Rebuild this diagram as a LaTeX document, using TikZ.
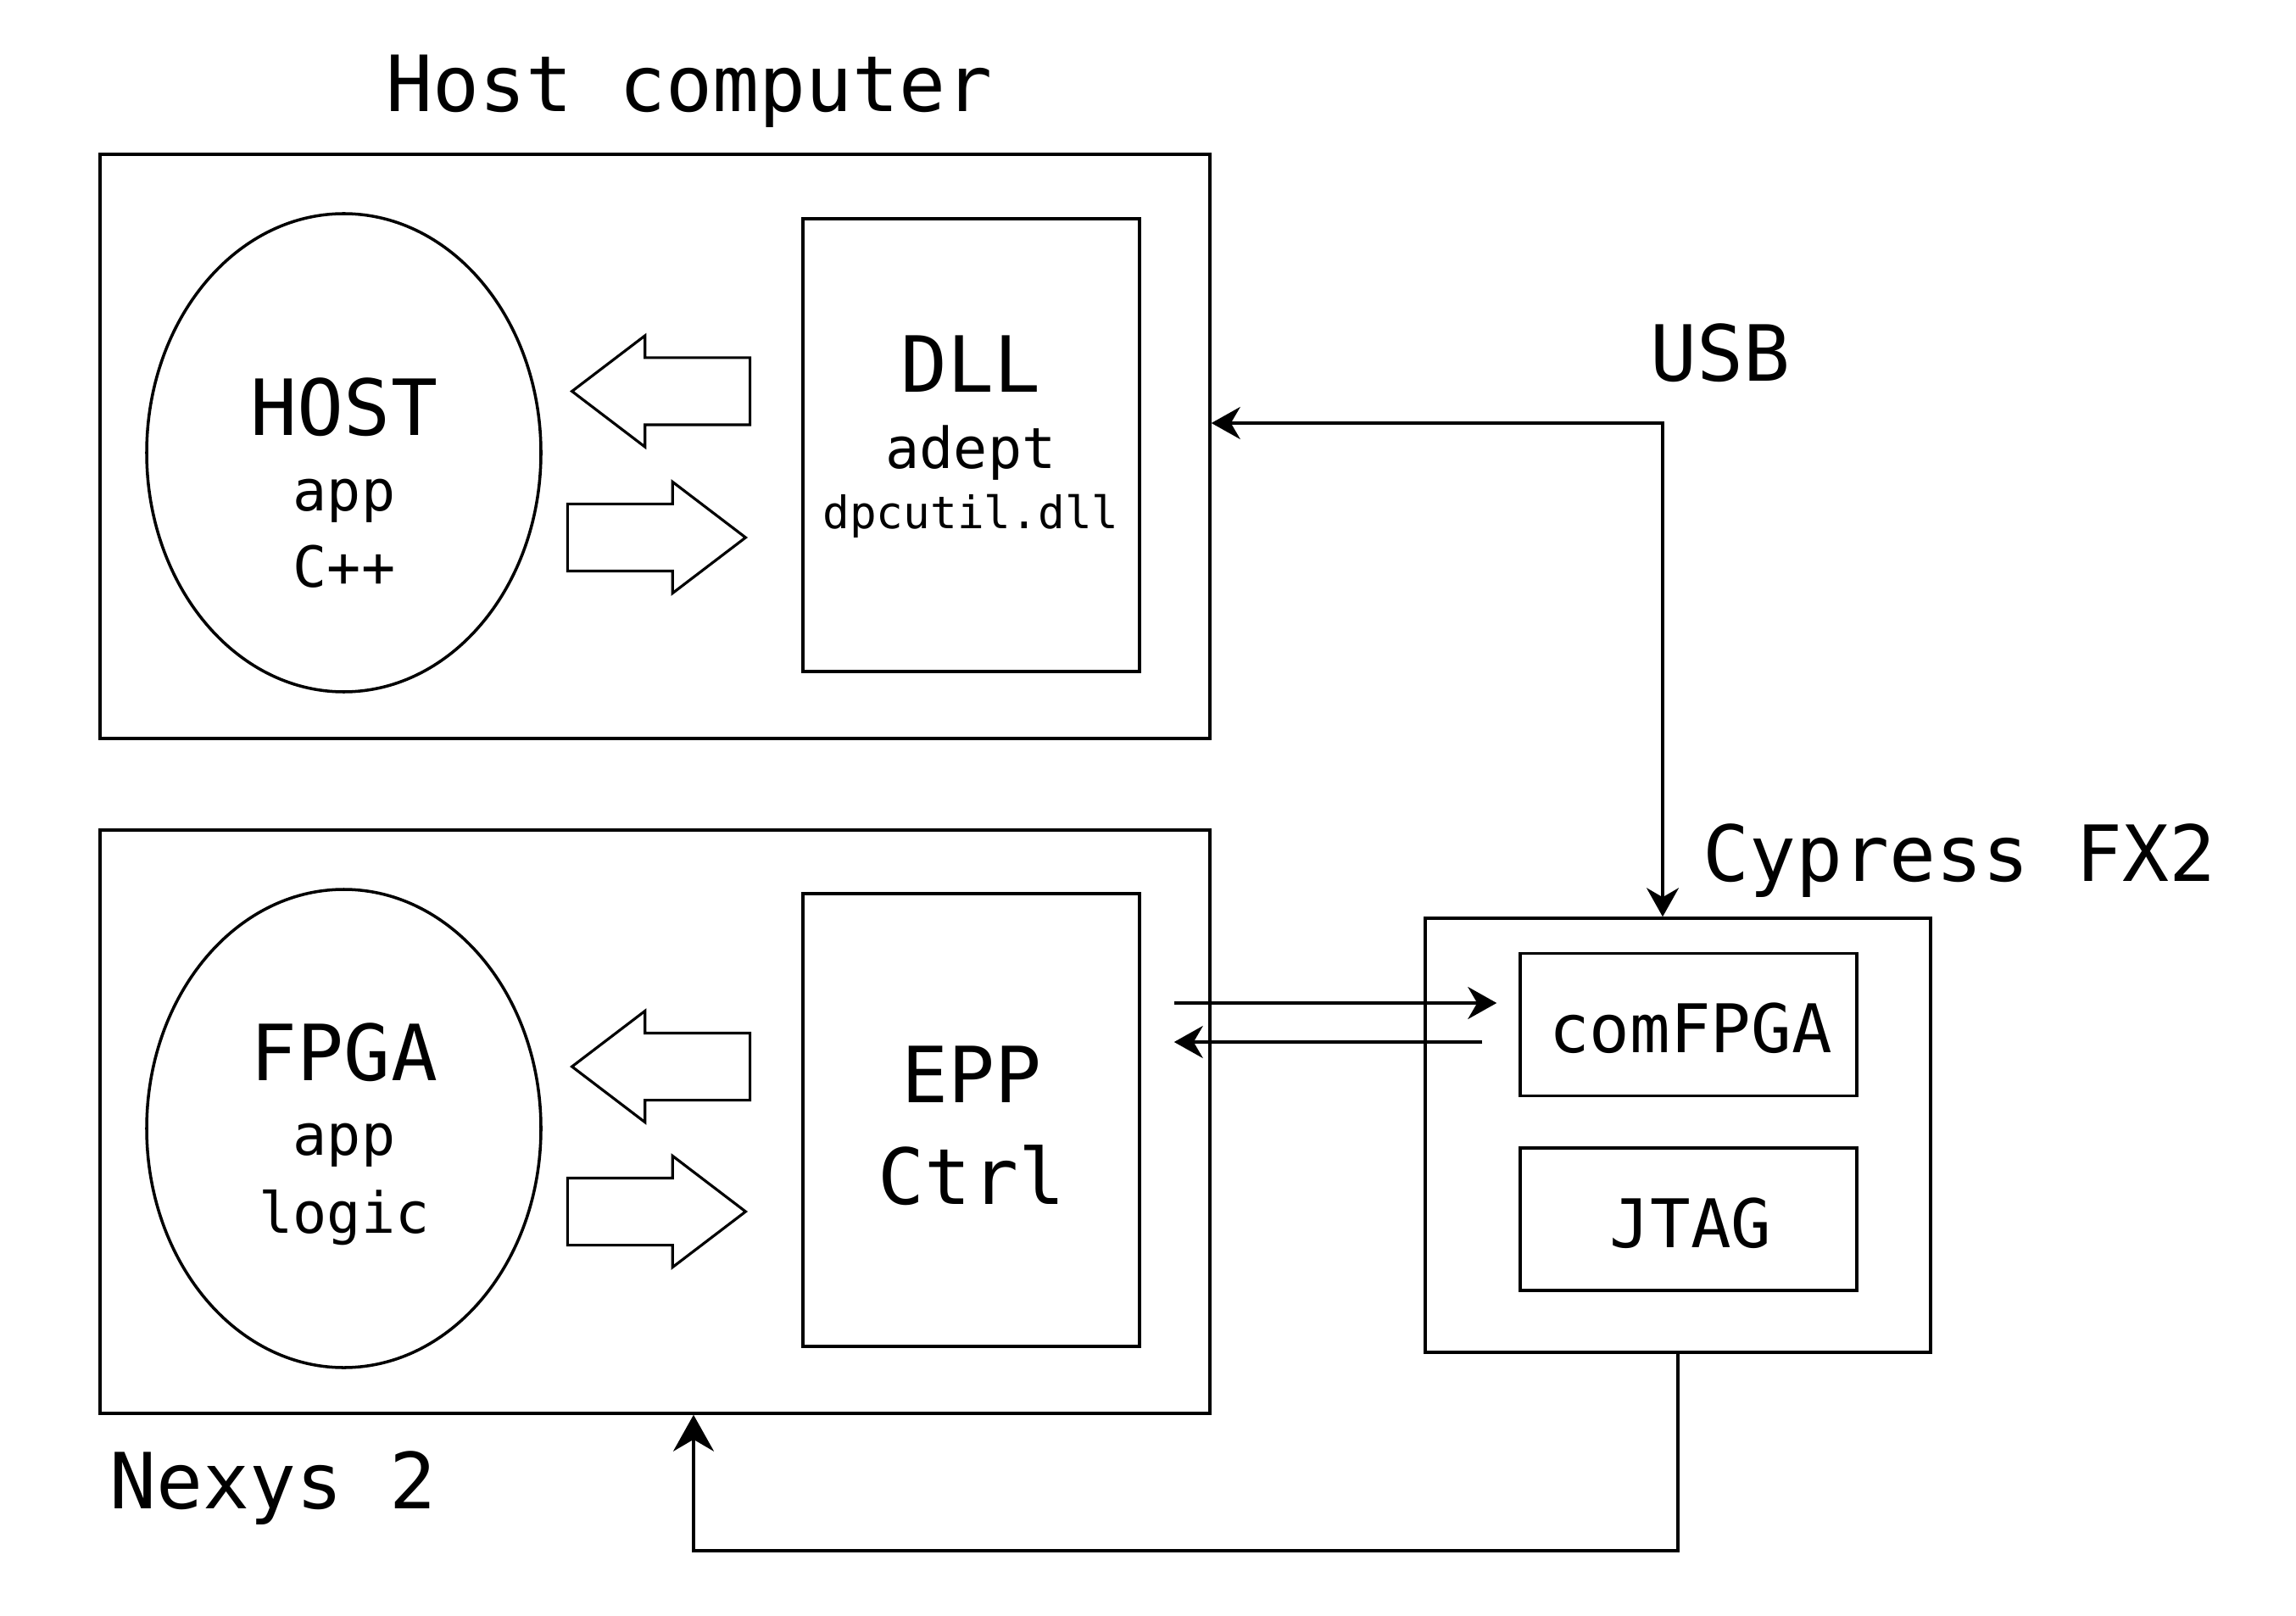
\documentclass[tikz,border=0pt]{standalone}
\usepackage{fontspec}
\setmainfont{DejaVu Sans Mono}
\usetikzlibrary{shapes.geometric, shapes.arrows, arrows.meta}

\begin{document}
\begin{tikzpicture}[
  block/.style = {
    shape = rectangle,
    draw = black,
    inner sep = 0pt
  },
  blob/.style = {
    shape = ellipse,
    draw = black,
    minimum width = 4.65cm,
    minimum height = 5.64cm,
    inner sep = 0pt
  },
  fat/.style = {
    shape = single arrow,
    draw = black,
    line width = 0.9pt,
    minimum height = 2.1cm,
    minimum width = 1.28cm,
    single arrow head extend = 0.26cm,
    single arrow tip angle = 74.6,
    inner xsep = 0pt,
    inner ysep = 0.38cm,
    anchor = tip
  },
  bigtext/.style = {
    anchor = base,
    inner sep = 0pt,
    font = \fontsize{26}{31}\selectfont
  },
  midtext/.style = {
    anchor = base,
    inner sep = 0pt,
    font = \fontsize{19}{23}\selectfont
  },
  smalltext/.style = {
    anchor = base,
    inner sep = 0pt,
    font = \fontsize{15}{18}\selectfont
  },
  boxtext/.style = {
    anchor = base,
    inner sep = 0pt,
    font = \fontsize{22.5}{27}\selectfont
  },
  every path/.style = {
    line width = 1pt
  },
  > = {Stealth[length = 3.4mm, width = 3.8mm, inset = 1.1mm]}
]
  \useasboundingbox (0, 0) rectangle (27.08, -19.06);

  \node[block, minimum width = 13.09cm, minimum height = 6.89cm] (hostpc) at (7.725, -5.265) {};
  \node[blob] (hostapp) at (4.055, -5.34) {};
  \node[block, minimum width = 3.97cm, minimum height = 5.34cm] (dll) at (11.455, -5.25) {};
  \node[fat, shape border rotate = 180] (hostpull) at (6.72, -4.615) {};
  \node[fat] (hostpush) at (8.82, -6.34) {};

  \node[block, minimum width = 13.09cm, minimum height = 6.88cm] (nexys) at (7.725, -13.23) {};
  \node[blob] (fpgaapp) at (4.055, -13.31) {};
  \node[block, minimum width = 3.97cm, minimum height = 5.34cm] (epp) at (11.455, -13.21) {};
  \node[fat, shape border rotate = 180] (fpgapull) at (6.72, -12.58) {};
  \node[fat] (fpgapush) at (8.82, -14.29) {};

  \node[block, minimum width = 5.96cm, minimum height = 5.12cm] (fx2) at (19.79, -13.39) {};
  \node[block, minimum width = 3.97cm, minimum height = 1.68cm] (comfpga) at (19.915, -12.085) {};
  \node[block, minimum width = 3.97cm, minimum height = 1.68cm] (jtag) at (19.915, -14.38) {};

  \node[bigtext] (hostcap) at (8.13, -1.32) {Host computer};
  \node[bigtext] (usbcap) at (20.29, -4.50) {USB};
  \node[bigtext] (fx2cap) at (23.11, -10.39) {Cypress FX2};
  \node[bigtext] (nexyscap) at (3.22, -17.79) {Nexys 2};

  \node[bigtext] (hostname) at (4.06, -5.14) {HOST};
  \node[midtext] (hostkind) at (4.06, -6.03) {app};
  \node[midtext] (hostlang) at (4.06, -6.93) {C++};

  \node[bigtext] (dllname) at (11.45, -4.63) {DLL};
  \node[midtext] (dllkind) at (11.45, -5.53) {adept};
  \node[smalltext] (dllfile) at (11.45, -6.23) {dpcutil.dll};

  \node[bigtext] (fpganame) at (4.06, -12.74) {FPGA};
  \node[midtext] (fpgakind) at (4.06, -13.62) {app};
  \node[midtext] (fpgalogic) at (4.06, -14.54) {logic};

  \node[bigtext] (eppname) at (11.46, -13.00) {EPP};
  \node[bigtext] (eppctrl) at (11.46, -14.20) {Ctrl};

  \node[boxtext] (comname) at (19.94, -12.41) {comFPGA};
  \node[boxtext] (jtagname) at (19.94, -14.71) {JTAG};

  \coordinate (usbbend) at (19.61, -4.99);
  \coordinate (eppout) at ([yshift = 1.38cm] epp.east);
  \coordinate (eppin) at ([yshift = 0.92cm] epp.east);
  \coordinate (jtagbend) at (8.18, -18.29);

  \draw[<->] (hostpc.east |- usbbend) -- (usbbend) -- (usbbend |- fx2.north);
  \draw[->, shorten <= 0.39cm, shorten >= 0.26cm] (eppout) -- (eppout -| comfpga.west);
  \draw[->, shorten <= 0.43cm, shorten >= 0.39cm] (eppin -| comfpga.west) -- (eppin);
  \draw[-{Stealth[length = 4.3mm, width = 4.8mm, inset = 1.4mm]}] (fx2.south) |- (jtagbend) -- (jtagbend |- nexys.south);
\end{tikzpicture}
\end{document}
